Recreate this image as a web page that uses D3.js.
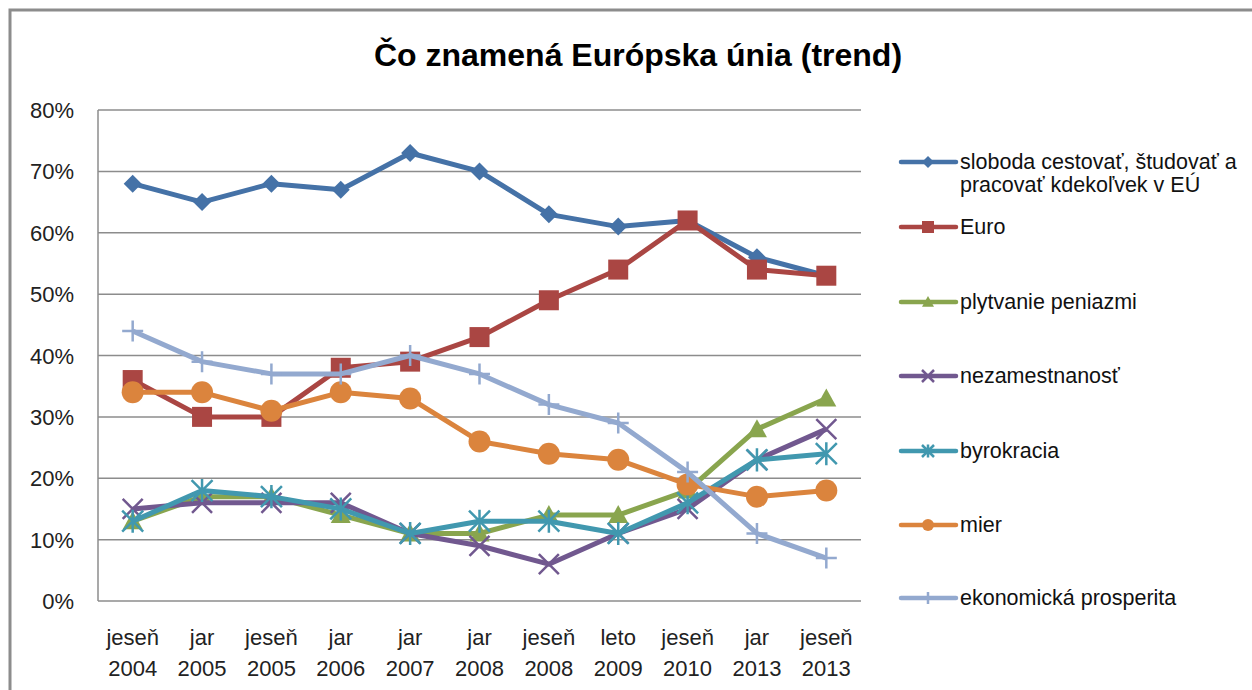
<!DOCTYPE html>
<html>
<head>
<meta charset="utf-8">
<script src="https://cdn.jsdelivr.net/npm/d3@7"></script>
<style>
  body { margin: 0; background: #fff; }
  svg { display: block; font-family: "Liberation Sans", Arial, sans-serif; }
</style>
</head>
<body>
<svg id="chart" width="1252" height="690"></svg>
<script>
// categories (two-line tick labels)
var periods = ["jeseň", "jar", "jeseň", "jar", "jar", "jar", "jeseň", "leto", "jeseň", "jar", "jeseň"];
var years = ["2004", "2005", "2005", "2006", "2007", "2008", "2008", "2009", "2010", "2013", "2013"];

// series values in %
var sloboda = [68, 65, 68, 67, 73, 70, 63, 61, 62, 56, 53];
var euro = [36, 30, 30, 38, 39, 43, 49, 54, 62, 54, 53];
var plytvanie = [13, 17, 17, 14, 11, 11, 14, 14, 18, 28, 33];
var nezamestnanost = [15, 16, 16, 16, 11, 9, 6, 11, 15, 23, 28];
var byrokracia = [13, 18, 17, 15, 11, 13, 13, 11, 16, 23, 24];
var mier = [34, 34, 31, 34, 33, 26, 24, 23, 19, 17, 18];
var prosperita = [44, 39, 37, 37, 40, 37, 32, 29, 21, 11, 7];

var yTicks = [0, 10, 20, 30, 40, 50, 60, 70, 80];

var seriesNames = [
	["sloboda cestovať, študovať a", "pracovať kdekoľvek v EÚ"],
	["Euro"], ["plytvanie peniazmi"], ["nezamestnanosť"], ["byrokracia"], ["mier"], ["ekonomická prosperita"]
];
var seriesValues = [sloboda, euro, plytvanie, nezamestnanost, byrokracia, mier, prosperita];
var seriesColors = ["#4572a7", "#aa4643", "#89a54e", "#71588f", "#4198af", "#db843d", "#93a9cf"];
var seriesMarkers = ["diamond", "square", "triangle", "x", "star", "circle", "plus"];

var svg = d3.select("#chart");

// outer frame
svg.append("path")
	.attr("d", "M10,700 L10,10 L1262,10")
	.attr("fill", "none")
	.attr("stroke", "#8c8c8c")
	.attr("stroke-width", 3);

// title
svg.append("text")
	.attr("x", 638).attr("y", 66)
	.attr("text-anchor", "middle")
	.style("font-size", "32px")
	.style("font-weight", "bold")
	.text("Čo znamená Európska únia (trend)");

var plotLeft = 98, plotRight = 861, plotTop = 110, plotBottom = 601;

var x = d3.scaleBand().domain(d3.range(periods.length)).range([plotLeft, plotRight]);
var y = d3.scaleLinear().domain([0, 80]).range([plotBottom, plotTop]);

// gridlines
svg.append("g").selectAll("line")
	.data(yTicks)
	.enter().append("line")
	.attr("x1", plotLeft).attr("x2", plotRight)
	.attr("y1", d => y(d)).attr("y2", d => y(d))
	.attr("stroke", "#8c8c8c")
	.attr("stroke-width", 1.5);

// left axis line
svg.append("line")
	.attr("x1", plotLeft).attr("x2", plotLeft)
	.attr("y1", plotTop).attr("y2", plotBottom)
	.attr("stroke", "#8c8c8c").attr("stroke-width", 1.5);

// y labels
svg.append("g").selectAll("text")
	.data(yTicks)
	.enter().append("text")
	.attr("x", 74)
	.attr("y", d => y(d) + 8)
	.attr("text-anchor", "end")
	.style("font-size", "22px")
	.attr("fill", "#222")
	.text(d => d + "%");

// x labels
var xl = svg.append("g").selectAll("text")
	.data(periods)
	.enter().append("text")
	.attr("text-anchor", "middle")
	.style("font-size", "22px")
	.attr("fill", "#222");
xl.append("tspan")
	.attr("x", (d, i) => x(i) + x.bandwidth() / 2)
	.attr("y", 645)
	.text(d => d);
xl.append("tspan")
	.attr("x", (d, i) => x(i) + x.bandwidth() / 2)
	.attr("y", 676)
	.text((d, i) => years[i]);

function drawMarker(g, type, color, s) {
	// s = nominal marker size
	var h = s / 2;
	if (type === "diamond") {
		g.append("path").attr("d", `M0,${-h} L${h},0 L0,${h} L${-h},0 Z`).attr("fill", color);
	} else if (type === "square") {
		g.append("rect").attr("x", -h).attr("y", -h).attr("width", s).attr("height", s).attr("fill", color);
	} else if (type === "triangle") {
		g.append("path").attr("d", `M0,${-h} L${h},${h * 0.8} L${-h},${h * 0.8} Z`).attr("fill", color);
	} else if (type === "circle") {
		g.append("circle").attr("r", h).attr("fill", color);
	} else if (type === "x") {
		g.append("path").attr("d", `M${-h},${-h} L${h},${h} M${-h},${h} L${h},${-h}`)
			.attr("stroke", color).attr("stroke-width", 2.5);
	} else if (type === "star") {
		g.append("path").attr("d", `M${-h},${-h} L${h},${h} M${-h},${h} L${h},${-h} M0,${-h * 1.1} L0,${h * 1.1}`)
			.attr("stroke", color).attr("stroke-width", 2.5);
	} else if (type === "plus") {
		g.append("path").attr("d", `M${-h},0 L${h},0 M0,${-h} L0,${h}`)
			.attr("stroke", color).attr("stroke-width", 2.5);
	}
}

var markerSize = { diamond: 18, square: 20, triangle: 20, x: 20, star: 21, circle: 22, plus: 21 };

var line = d3.line()
	.x((d, i) => x(i) + x.bandwidth() / 2)
	.y(d => y(d));

// draw series in legend order
seriesValues.forEach(function (vals, k) {
	var g = svg.append("g");
	g.append("path")
		.attr("d", line(vals))
		.attr("fill", "none")
		.attr("stroke", seriesColors[k])
		.attr("stroke-width", 5)
		.attr("stroke-linejoin", "round");
	vals.forEach(function (v, i) {
		var m = g.append("g")
			.attr("transform", `translate(${x(i) + x.bandwidth() / 2},${y(v)})`);
		drawMarker(m, seriesMarkers[k], seriesColors[k], markerSize[seriesMarkers[k]]);
	});
});

// legend
var legendY = [162, 227, 302, 376, 451, 525, 598];
seriesNames.forEach(function (names, k) {
	var g = svg.append("g").attr("transform", `translate(0,${legendY[k]})`);
	g.append("line")
		.attr("x1", 901).attr("x2", 956)
		.attr("stroke", seriesColors[k]).attr("stroke-width", 4.5)
		.attr("stroke-linecap", "round");
	var m = g.append("g").attr("transform", "translate(928,0)");
	drawMarker(m, seriesMarkers[k], seriesColors[k], 12);
	names.forEach(function (t, j) {
		g.append("text")
			.attr("x", 960).attr("y", 7 + j * 23)
			.style("font-size", "21.5px")
			.attr("fill", "#111")
			.text(t);
	});
});
</script>
</body>
</html>
